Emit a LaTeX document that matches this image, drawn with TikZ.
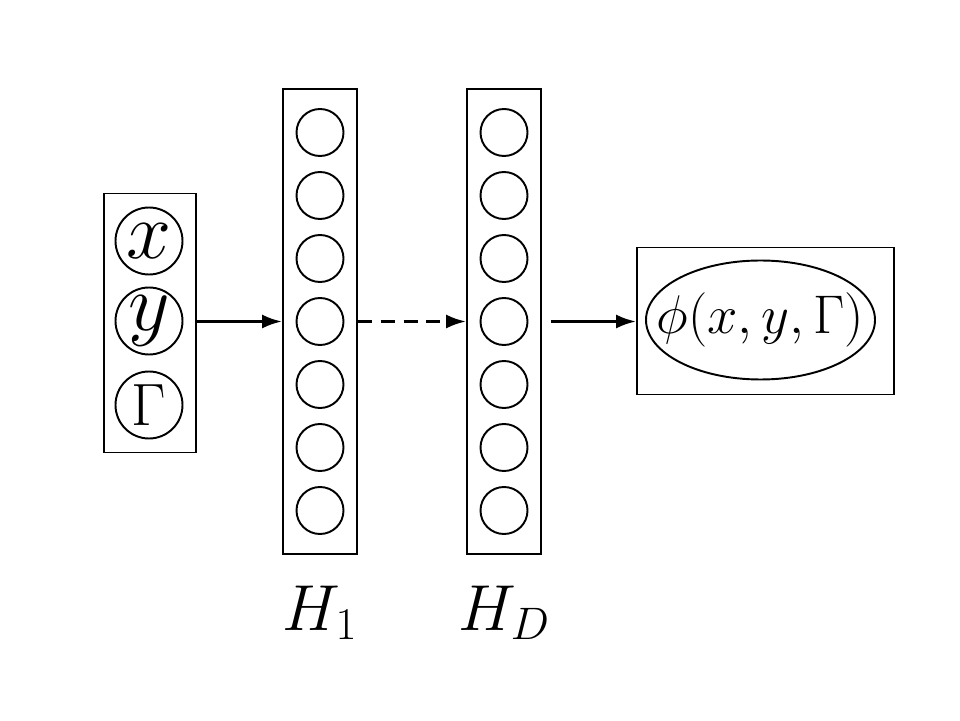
\RequirePackage{fix-cm}
\documentclass[tikz,border=0pt]{standalone}
\usetikzlibrary{arrows.meta,shapes.geometric}
\tikzset{
  layer/.style={draw,line width=1pt,minimum width=1.48cm,minimum height=9.3cm,inner sep=0pt},
  unit/.style={circle,draw,line width=1.1pt,minimum size=0.94cm,inner sep=0pt},
  inunit/.style={circle,draw,line width=1.1pt,minimum size=1.34cm,inner sep=0pt},
  conn/.style={-{Latex[length=4mm,width=2.8mm]},line width=1.7pt},
}
\begin{document}
\begin{tikzpicture}
	\useasboundingbox (0,0) rectangle (19.2,14.4);
	% input layer
	\node[draw,line width=1pt,minimum width=1.84cm,minimum height=5.18cm] (inbox) at (3.0,7.94) {};
	\node[inunit,font=\fontsize{46}{46}\selectfont] (inx) at (2.98,9.58) {$x$};
	\node[inunit,font=\fontsize{46}{46}\selectfont] (iny) at (2.98,7.98) {$y$};
	\node[inunit,font=\fontsize{34}{34}\selectfont] (ing) at (2.98,6.30) {$\Gamma$};
	% hidden layers
	\foreach \name/\xc in {h1/6.4,hd/10.08}{
		\node[layer] (\name) at (\xc,7.97) {};
		\foreach \k in {1,...,7}
			\node[unit] (\name u\k) at (\xc,{7.97+1.26*(4-\k)}) {};
	}
	\node[font=\fontsize{37}{37}\selectfont,anchor=base] (lh1) at (6.4,1.8) {$H_1$};
	\node[font=\fontsize{37}{37}\selectfont,anchor=base] (lhd) at (10.08,1.8) {$H_D$};
	% output
	\node[draw,line width=1pt,minimum width=5.14cm,minimum height=2.94cm] (out) at (15.31,7.98) {};
	\node[ellipse,draw,line width=1.1pt,minimum width=4.58cm,minimum height=2.38cm,inner xsep=-0.7cm,inner ysep=0pt,font=\fontsize{31}{31}\selectfont] (phi) at (15.21,8.0) {$\phi(x,y,\Gamma)$};
	% connections
	\draw[conn] (inbox.east |- h1u4) -- (h1.west |- h1u4);
	\draw[conn,dash pattern=on 8pt off 5pt] (h1.east |- h1u4) -- (hd.west |- h1u4);
	\draw[conn] ([xshift=0.18cm]hd.east |- h1u4) -- (out.west |- h1u4);
\end{tikzpicture}
\end{document}
